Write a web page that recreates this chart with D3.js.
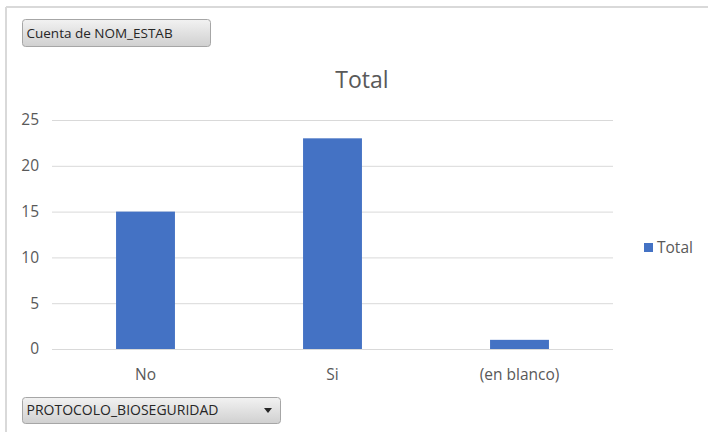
<!DOCTYPE html>
<html lang="es">
<head>
<meta charset="UTF-8">
<title>Total</title>
<script src="https://cdnjs.cloudflare.com/ajax/libs/d3/7.8.5/d3.min.js"></script>
<style>
  body { margin: 0; background: white; font-family: "Open Sans", "Noto Sans", sans-serif; }
  svg { display: block; }
</style>
</head>
<body>
<div id="chart"></div>
<script>
// data
const categories = ["No", "Si", "(en blanco)"];
const totals = [15, 23, 1];
const yTicks = [0, 5, 10, 15, 20, 25];
const seriesName = "Total";

const width = 708, height = 432;
const margin = {left: 52, right: 95, top: 120, bottom: 83};

const svg = d3.select("#chart").append("svg")
  .attr("width", width).attr("height", height);

// outer chart frame (top and left edges visible)
svg.append("line").attr("x1", 6).attr("x2", width).attr("y1", 7).attr("y2", 7)
  .attr("stroke", "#d9d9d9").attr("stroke-width", 2);
svg.append("line").attr("x1", 6).attr("x2", 6).attr("y1", 7).attr("y2", height)
  .attr("stroke", "#d9d9d9").attr("stroke-width", 2);

const x = d3.scaleBand().domain(categories)
  .range([margin.left, width - margin.right])
  .paddingInner(0.685).paddingOuter(0.3425);
const y = d3.scaleLinear().domain([0, 25]).range([height - margin.bottom, margin.top]);

// grid
svg.append("g").selectAll("line").data(yTicks).join("line")
  .attr("x1", margin.left).attr("x2", width - margin.right)
  .attr("y1", d => y(d) + 0.5).attr("y2", d => y(d) + 0.5)
  .attr("stroke", "#d9d9d9").attr("stroke-width", 1);

// y labels
svg.append("g").selectAll("text").data(yTicks).join("text")
  .attr("x", 39).attr("y", d => y(d)).attr("dy", "0.35em")
  .attr("text-anchor", "end").attr("fill", "#595959").attr("font-size", 15.5)
  .text(d => d);

// bars
svg.append("g").selectAll("rect").data(totals).join("rect")
  .attr("x", (d, i) => x(categories[i]))
  .attr("width", x.bandwidth())
  .attr("y", d => y(d))
  .attr("height", d => y(0) - y(d))
  .attr("fill", "#4472c4");

// x labels
svg.append("g").selectAll("text").data(categories).join("text")
  .attr("x", d => x(d) + x.bandwidth() / 2).attr("y", 380)
  .attr("text-anchor", "middle").attr("fill", "#595959").attr("font-size", 15.5)
  .text(d => d);

// title
svg.append("text").attr("x", 362).attr("y", 88)
  .attr("text-anchor", "middle").attr("fill", "#595959").attr("font-size", 23)
  .text(seriesName);

// legend
svg.append("rect").attr("x", 644).attr("y", 243).attr("width", 9).attr("height", 9)
  .attr("fill", "#4472c4");
svg.append("text").attr("x", 657).attr("y", 253)
  .attr("fill", "#595959").attr("font-size", 15.5).text(seriesName);

// pivot field buttons
const grad = svg.append("defs").append("linearGradient").attr("id", "btn")
  .attr("x1", 0).attr("x2", 0).attr("y1", 0).attr("y2", 1);
grad.append("stop").attr("offset", "0%").attr("stop-color", "#f2f2f2");
grad.append("stop").attr("offset", "100%").attr("stop-color", "#d0d0d0");

function button(bx, by, bw, bh, label, fs) {
  svg.append("rect").attr("x", bx).attr("y", by).attr("width", bw).attr("height", bh)
    .attr("rx", 3).attr("fill", "url(#btn)").attr("stroke", "#a6a6a6");
  svg.append("text").attr("x", bx + 4).attr("y", by + bh / 2).attr("dy", "0.35em")
    .attr("fill", "#262626").attr("font-size", fs).text(label);
}
button(22.5, 19.5, 188, 27, "Cuenta de NOM_ESTAB", 13.5);
button(22.5, 397.5, 258, 26, "PROTOCOLO_BIOSEGURIDAD", 14);
svg.append("path").attr("d", "M264,408 L272,408 L268,413 Z").attr("fill", "#262626");
</script>
</body>
</html>
